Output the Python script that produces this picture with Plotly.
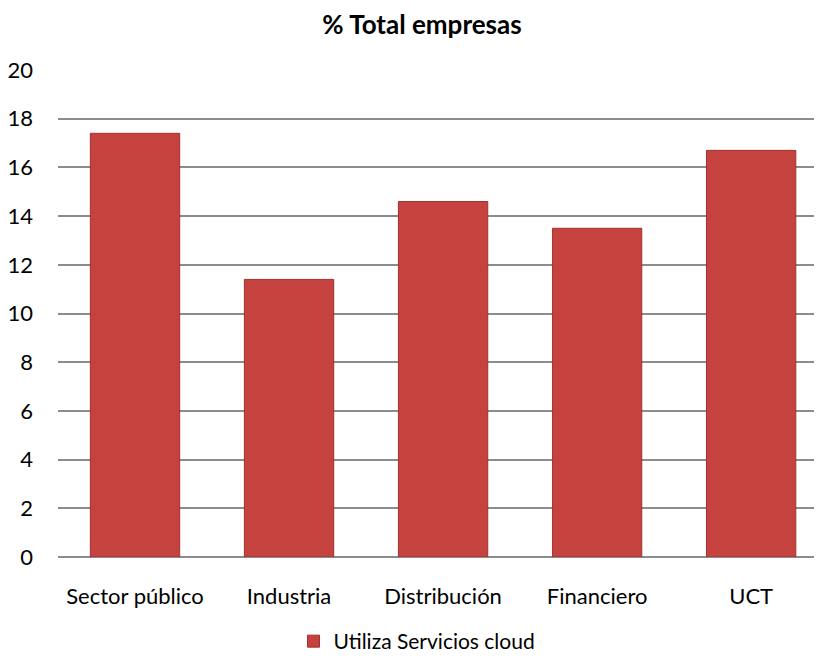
import plotly.graph_objects as go

categories = ["Sector público", "Industria", "Distribución", "Financiero", "UCT"]
values = [17.4, 11.4, 14.6, 13.5, 16.7]
series_name = "Utiliza Servicios cloud"
title_text = "% Total empresas"
y_ticks = [0, 2, 4, 6, 8, 10, 12, 14, 16, 18, 20]

FONT = "Lato, Open Sans, sans-serif"
W, H = 814, 654  # page body has an 8px margin

fig = go.Figure()
fig.add_trace(go.Bar(
    x=categories,
    y=values,
    name=series_name,
    width=0.58,
    marker=dict(color="#C6423F", line=dict(color="#9E3230", width=1)),
    showlegend=True,
))

fig.update_layout(
    width=W,
    height=H,
    margin=dict(l=50, r=0, t=62, b=105),
    paper_bgcolor="white",
    plot_bgcolor="white",
    title=dict(text="<b>" + title_text + "</b>", x=414 / W, xref="container", xanchor="center",
               y=1 - 17 / H, yref="container", yanchor="middle",
               font=dict(family=FONT, size=26, color="black")),
    showlegend=True,
    legend=dict(orientation="h", x=409 / W, xref="container", xanchor="center",
                y=0, yref="container", yanchor="bottom",
                font=dict(family=FONT, size=21, color="black"), itemwidth=30),
)

fig.update_yaxes(
    range=[0, 20],
    tickvals=y_ticks,
    showgrid=True,
    gridcolor="#8C8C8C",
    gridwidth=2,
    zeroline=True,
    zerolinecolor="#8C8C8C",
    zerolinewidth=2,
    showline=False,
    ticks="",
    ticklabelstandoff=24,
    tickfont=dict(family=FONT, size=22, color="black"),
)

fig.update_xaxes(
    range=[-0.5, 4.46],
    showgrid=False,
    showline=False,
    ticks="",
    ticklabelstandoff=24,
    tickfont=dict(family=FONT, size=22, color="black"),
)

fig.write_html("out.html")
